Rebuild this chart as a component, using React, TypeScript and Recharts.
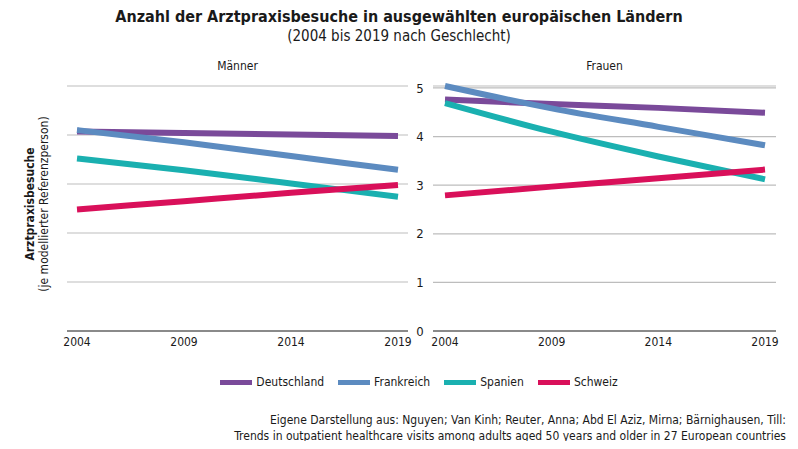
import { LineChart, Line, XAxis, YAxis, CartesianGrid } from "recharts";

const FONT = "'Liberation Sans Narrow', 'DejaVu Sans Condensed', Roboto, sans-serif";

const YEARS = [2004, 2009, 2014, 2019];
const Y_TICKS = [0, 1, 2, 3, 4, 5];

const SERIES = [
  { key: "Deutschland", color: "#7a4a9a" },
  { key: "Frankreich", color: "#5c8bc0" },
  { key: "Spanien", color: "#1ab0b0" },
  { key: "Schweiz", color: "#d9105a" },
];

// Männer
const M_DEUTSCHLAND = [4.07, 4.04, 4.01, 3.98];
const M_FRANKREICH = [4.1, 3.85, 3.57, 3.29];
const M_SPANIEN = [3.52, 3.28, 3.01, 2.74];
const M_SCHWEIZ = [2.48, 2.65, 2.82, 2.98];

// Frauen
const F_DEUTSCHLAND = [4.76, 4.67, 4.59, 4.49];
const F_FRANKREICH = [5.04, 4.58, 4.2, 3.82];
const F_SPANIEN = [4.69, 4.1, 3.59, 3.12];
const F_SCHWEIZ = [2.79, 2.97, 3.14, 3.32];

const build = (d: number[], f: number[], s: number[], c: number[]) =>
  YEARS.map((year, i) => ({
    year,
    Deutschland: d[i],
    Frankreich: f[i],
    Spanien: s[i],
    Schweiz: c[i],
  }));

const maenner = build(M_DEUTSCHLAND, M_FRANKREICH, M_SPANIEN, M_SCHWEIZ);
const frauen = build(F_DEUTSCHLAND, F_FRANKREICH, F_SPANIEN, F_SCHWEIZ);

const tickStyle = { fontSize: 12, fill: "#1a1a1a", fontFamily: FONT };

function Panel({ data, showY, width, left, margin, padding }: any) {
  return (
    <div style={{ position: "absolute", left, top: 0 }}>
      <LineChart width={width} height={360} data={data} margin={margin}>
        <CartesianGrid vertical={false} stroke="#bdbdbd" strokeWidth={1.2} />
        <XAxis
          dataKey="year"
          type="number"
          domain={[2004, 2019]}
          ticks={YEARS}
          padding={padding}
          height={29}
          tickLine={false}
          tickSize={0}
          tickMargin={6}
          axisLine={{ stroke: "#6e6e6e", strokeWidth: 1.5 }}
          tick={tickStyle}
        />
        <YAxis
          domain={[0, 5]}
          ticks={Y_TICKS}
          hide={!showY}
          width={showY ? 30 : 0}
          axisLine={false}
          tickLine={false}
          tickSize={0}
          tickMargin={13}
          tick={{ ...tickStyle, fontSize: 13, textAnchor: "middle" }}
        />
        {SERIES.map((s) => (
          <Line
            key={s.key}
            dataKey={s.key}
            type="monotone"
            stroke={s.color}
            strokeWidth={6}
            dot={false}
            isAnimationActive={false}
          />
        ))}
      </LineChart>
    </div>
  );
}

export default function App() {
  return (
    <div style={{ position: "relative", width: 798, height: 449, margin: -8, background: "#fff", fontFamily: FONT, color: "#1a1a1a", overflow: "hidden" }}>
      <div style={{ position: "absolute", top: 7, left: 0, width: 798, textAlign: "center", fontSize: 16, fontWeight: "bold" }}>
        Anzahl der Arztpraxisbesuche in ausgewählten europäischen Ländern
      </div>
      <div style={{ position: "absolute", top: 27, left: 0, width: 798, textAlign: "center", fontSize: 15 }}>
        (2004 bis 2019 nach Geschlecht)
      </div>
      <div style={{ position: "absolute", top: 59, left: 67, width: 341, textAlign: "center", fontSize: 12 }}>Männer</div>
      <div style={{ position: "absolute", top: 59, left: 433, width: 343, textAlign: "center", fontSize: 12 }}>Frauen</div>

      <Panel data={maenner} showY={false} width={430} left={0} margin={{ top: 86, right: 22, bottom: 0, left: 67 }} padding={{ left: 10, right: 10 }} />
      <Panel data={frauen} showY={true} width={395} left={403} margin={{ top: 86, right: 22, bottom: 0, left: 0 }} padding={{ left: 12, right: 11 }} />

      <div
        style={{
          position: "absolute",
          left: 37,
          top: 204,
          transform: "translate(-50%, -50%) rotate(-90deg)",
          textAlign: "center",
          whiteSpace: "nowrap",
          fontSize: 12,
          lineHeight: "14px",
        }}
      >
        <div style={{ fontWeight: "bold" }}>Arztpraxisbesuche</div>
        <div>(je modellierter Referenzperson)</div>
      </div>

      <div style={{ position: "absolute", top: 375, left: 0, width: 798, display: "flex", justifyContent: "center", fontSize: 12 }}>
        <div style={{ display: "flex", alignItems: "center", gap: 14, paddingLeft: 40 }}>
          {SERIES.map((s) => (
            <div key={s.key} style={{ display: "flex", alignItems: "center" }}>
              <span style={{ display: "inline-block", width: 32, height: 5, background: s.color, marginRight: 4 }} />
              <span>{s.key}</span>
            </div>
          ))}
        </div>
      </div>

      <div style={{ position: "absolute", top: 412, right: 12, textAlign: "right", fontSize: 12, lineHeight: "16px" }}>
        <div>Eigene Darstellung aus: Nguyen; Van Kinh; Reuter, Anna; Abd El Aziz, Mirna; Bärnighausen, Till:</div>
        <div>Trends in outpatient healthcare visits among adults aged 50 years and older in 27 European countries</div>
      </div>
    </div>
  );
}
